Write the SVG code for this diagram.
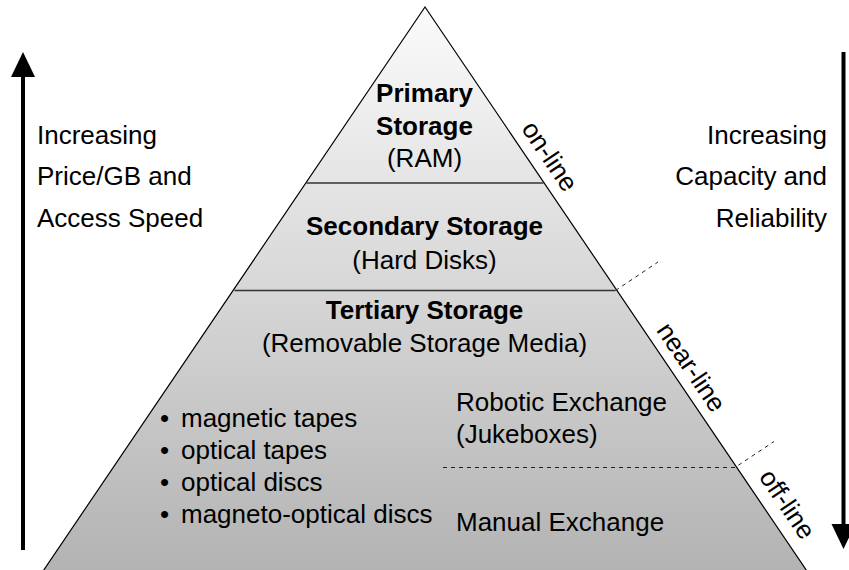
<svg xmlns="http://www.w3.org/2000/svg" width="849" height="570" viewBox="0 0 849 570">
  <defs>
    <linearGradient id="tierFill" gradientUnits="userSpaceOnUse" x1="0" y1="7" x2="0" y2="570">
      <stop offset="0" stop-color="#fbfbfb"/>
      <stop offset="1" stop-color="#b3b3b3"/>
    </linearGradient>
    <style>
      text { font-family: "Liberation Sans", Arial, Helvetica, sans-serif; font-size: 26px; fill: #000; }
      .b { font-weight: bold; }
      .mid { text-anchor: middle; }
      .end { text-anchor: end; }
      .divider { stroke: #333; stroke-width: 1.3; fill: none; }
      .dash { stroke: #222; stroke-width: 1; stroke-dasharray: 4 4; fill: none; }
      .shaft { stroke: #000; stroke-width: 4; fill: none; }
      .head { fill: #000; }
    </style>
  </defs>

  <rect width="849" height="570" fill="#fff"/>

  <!-- pyramid body -->
  <g id="pyramid">
    <polygon points="425,7 37,580 813,580" fill="url(#tierFill)" stroke="#000" stroke-width="1.2" stroke-linejoin="miter"/>
    <line class="divider" x1="306.5" y1="183" x2="543.5" y2="183"/>
    <line class="divider" x1="234.5" y1="290.5" x2="615.5" y2="290.5"/>
  </g>

  <g id="primary">
    <text class="b mid" x="424.5" y="102">Primary</text>
    <text class="b mid" x="424.5" y="135">Storage</text>
    <text class="mid" x="424.5" y="167">(RAM)</text>
  </g>

  <g id="secondary">
    <text class="b mid" x="424.5" y="235">Secondary Storage</text>
    <text class="mid" x="424.5" y="268.5">(Hard Disks)</text>
  </g>

  <g id="tertiary">
    <text class="b mid" x="424.5" y="319">Tertiary Storage</text>
    <text class="mid" x="424.5" y="352">(Removable Storage Media)</text>
    <text x="160" y="427">•</text><text x="181" y="427">magnetic tapes</text>
    <text x="160" y="459">•</text><text x="181" y="459">optical tapes</text>
    <text x="160" y="491">•</text><text x="181" y="491">optical discs</text>
    <text x="160" y="523">•</text><text x="181" y="523">magneto-optical discs</text>
  </g>

  <g id="robotic">
    <text x="456" y="411">Robotic Exchange</text>
    <text x="456" y="443">(Jukeboxes)</text>
  </g>

  <g id="manual">
    <text x="456" y="531">Manual Exchange</text>
  </g>

  <!-- access classes along the right flank -->
  <g id="access-labels">
    <text class="mid" transform="translate(550,156) rotate(55.9)" y="9">on-line</text>
    <text class="mid" transform="translate(691.5,367) rotate(55.9)" y="9">near-line</text>
    <text class="mid" transform="translate(787.5,504) rotate(55.9)" y="9">off-line</text>
  </g>

  <g id="price-label">
    <text x="37" y="144">Increasing</text>
    <text x="37" y="185">Price/GB and</text>
    <text x="37" y="226.5">Access Speed</text>
  </g>

  <g id="capacity-label">
    <text class="end" x="827" y="144">Increasing</text>
    <text class="end" x="827" y="185">Capacity and</text>
    <text class="end" x="827" y="226.5">Reliability</text>
  </g>

  <g id="connectors">
    <!-- boundaries between access classes -->
    <polyline class="dash" points="443,467.5 735,467.5 774,441.5"/>
    <line class="dash" x1="615.5" y1="290.5" x2="658" y2="262"/>
    <!-- upward trend arrow -->
    <line class="shaft" x1="23" y1="550" x2="23" y2="74"/>
    <polygon class="head" points="23,52 11,77 35,77"/>
    <!-- downward trend arrow -->
    <line class="shaft" x1="843.5" y1="52" x2="843.5" y2="526"/>
    <polygon class="head" points="843.5,549 831.5,524 855.5,524"/>
  </g>
</svg>
